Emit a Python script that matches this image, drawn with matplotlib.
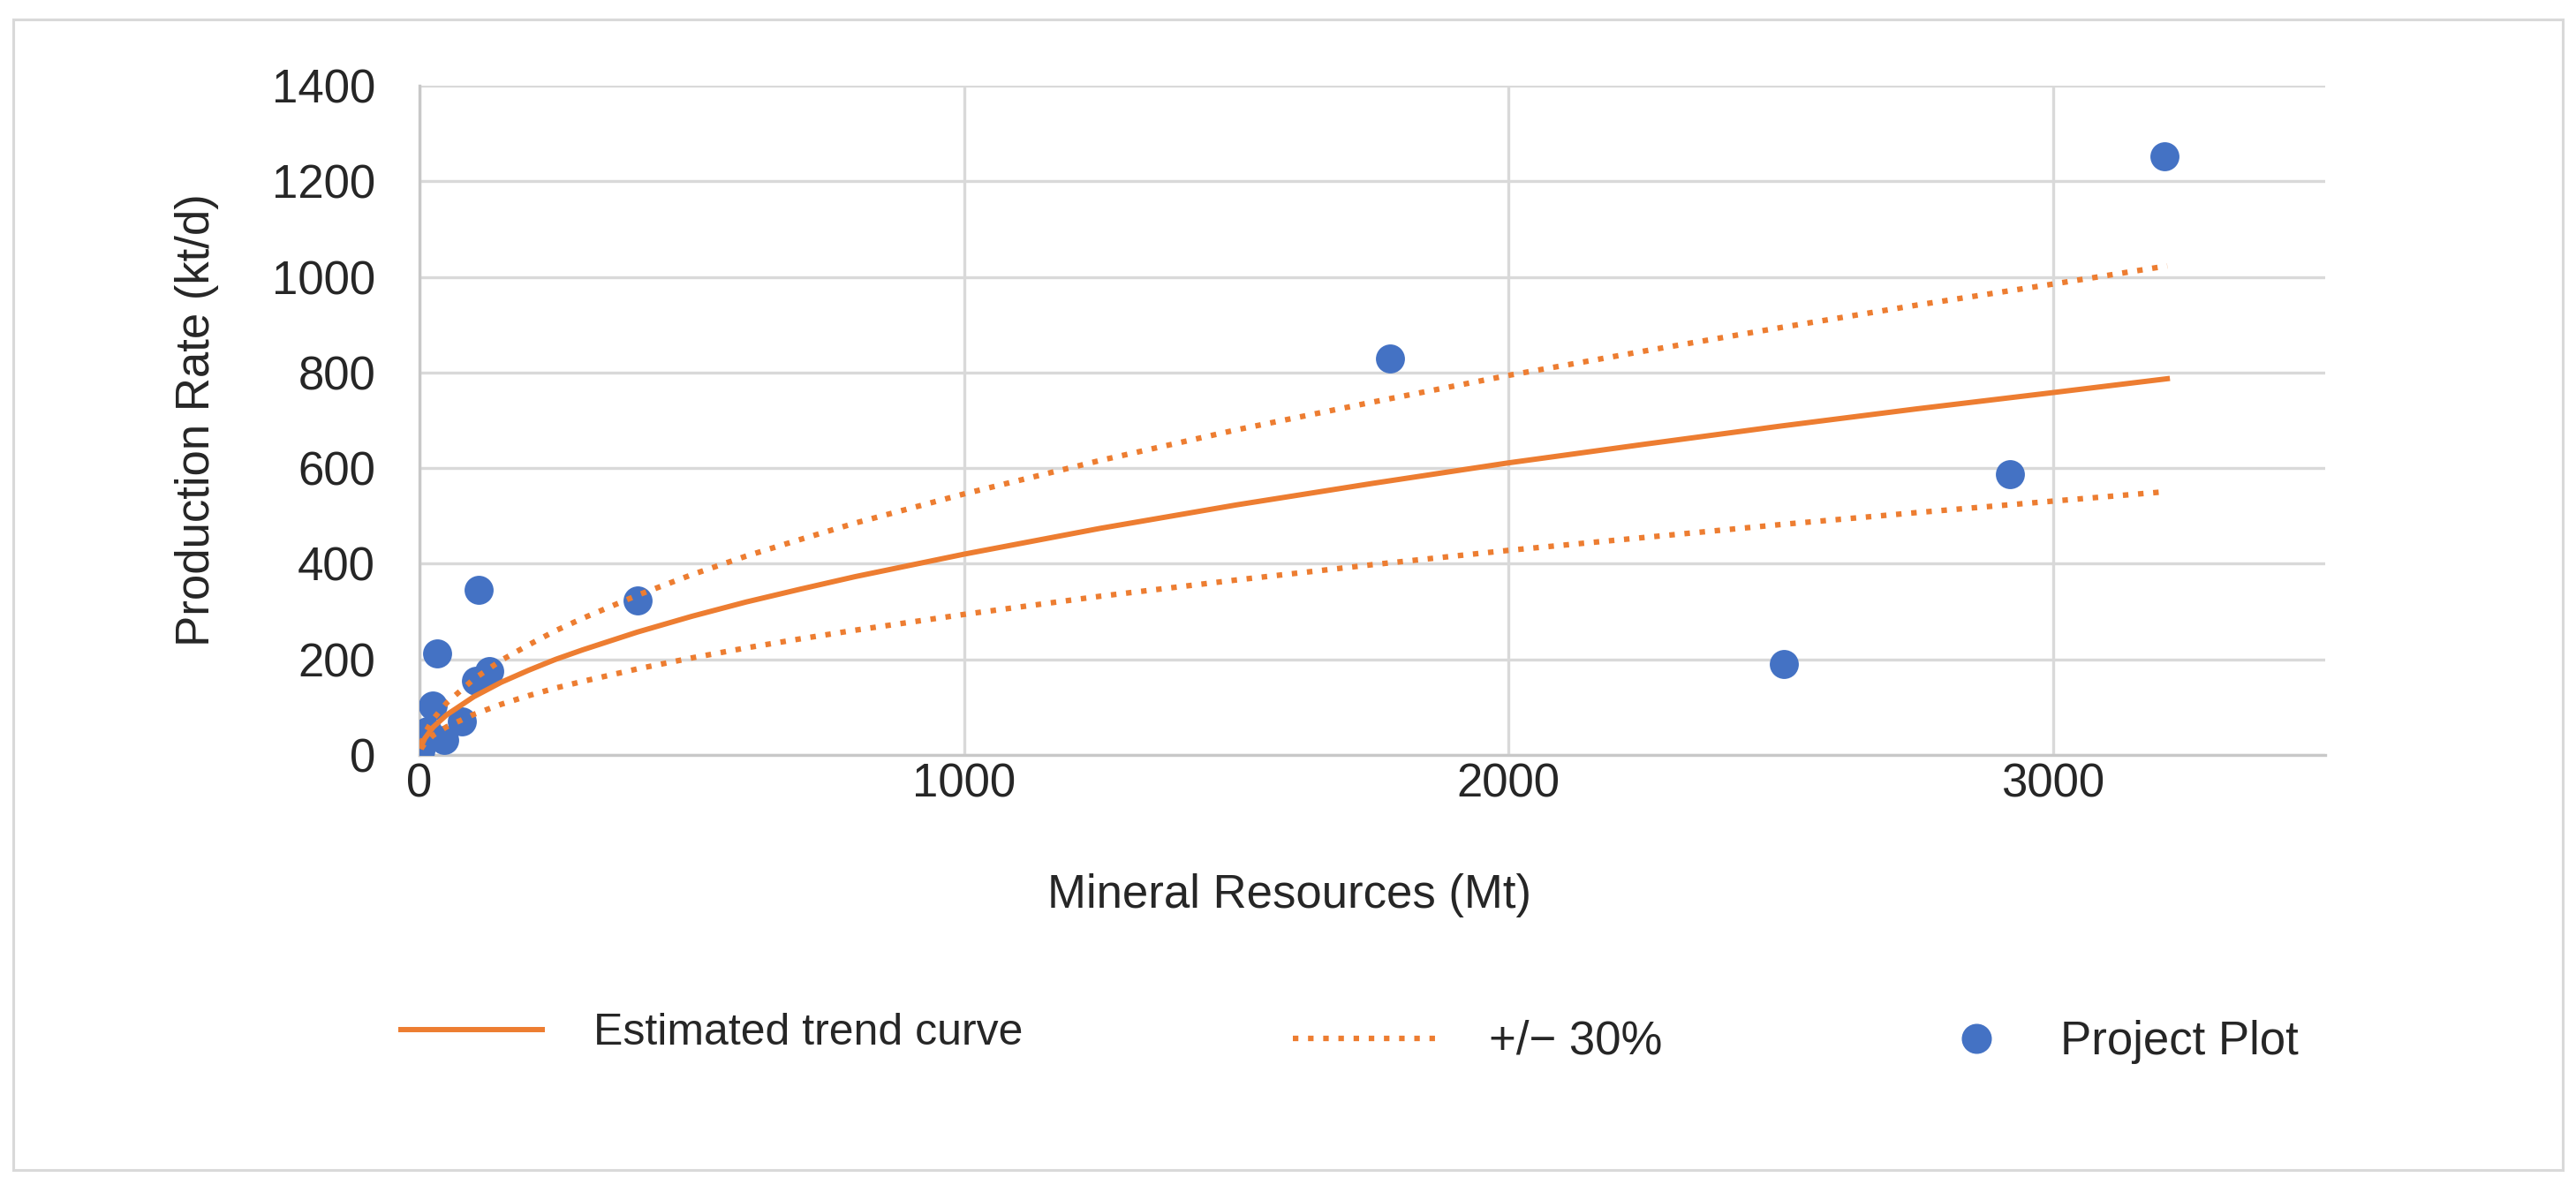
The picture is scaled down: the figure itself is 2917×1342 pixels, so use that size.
import matplotlib
matplotlib.use("Agg")
import matplotlib.pyplot as plt
from matplotlib.lines import Line2D
from matplotlib.patches import Rectangle

plt.rcParams["font.family"] = ["Liberation Sans", "DejaVu Sans"]

# project points (Mt, kt/d)
proj_x = [2, 8, 15, 24, 46, 78, 104, 128, 32, 108, 400, 1782, 2505, 2921, 3205]
proj_y = [10, 28, 50, 104, 32, 71, 155, 176, 212, 345, 324, 829, 191, 588, 1253]

# estimated trend curve and the +/- 30% band
curve_x = [3, 10, 25, 50, 100, 150, 200, 250, 300, 400, 500, 600, 700, 800, 1000,
           1250, 1500, 1750, 2000, 2250, 2500, 2750, 3000, 3210]
trend_y = [18, 35, 58, 84, 122, 152, 177, 200, 220, 257, 290, 320, 347, 373, 420,
           474, 523, 568, 611, 650, 688, 724, 758, 787]
upper_y = [23, 46, 75, 109, 159, 198, 230, 260, 286, 334, 377, 416, 451, 485, 546,
           616, 680, 738, 794, 845, 894, 941, 985, 1023]
lower_y = [13, 25, 41, 59, 85, 106, 124, 140, 154, 180, 203, 224, 243, 261, 294,
           332, 366, 398, 428, 455, 482, 507, 531, 551]

x_ticks = [0, 1000, 2000, 3000]
y_ticks = [0, 200, 400, 600, 800, 1000, 1200, 1400]

ORANGE, BLUE = "#ED7D31", "#4472C4"
GRID, TXT = "#D9D9D9", "#262626"
FS = 38
LW_TREND = 4.3
LW_DOT, DOTS = 4.5, (0, (1, 1.75))
W, H = 2917, 1342

fig = plt.figure(figsize=(W / 100, H / 100), dpi=100)
fig.patch.set_facecolor("white")

# light outer frame round the whole chart
fig.patches.append(Rectangle((15 / W, 1 - 1325 / H), (2902 - 15) / W, (1325 - 22) / H,
                             transform=fig.transFigure, fill=False,
                             edgecolor=GRID, lw=2.2))

ax = fig.add_axes([475 / W, 1 - 855 / H, (2633 - 475) / W, (855 - 97) / H])
ax.scatter(proj_x, proj_y, s=560, color=BLUE, zorder=3, linewidths=0)
ax.plot(curve_x, trend_y, color=ORANGE, lw=LW_TREND, zorder=4)
ax.plot(curve_x, upper_y, color=ORANGE, lw=LW_DOT, ls=DOTS, zorder=4)
ax.plot(curve_x, lower_y, color=ORANGE, lw=LW_DOT, ls=DOTS, zorder=4)

ax.set_xlim(0, 3500)
ax.set_ylim(0, 1400)
ax.set_xticks(x_ticks)
ax.set_yticks(y_ticks)
ax.grid(True, color=GRID, lw=2.4, zorder=0)
ax.set_axisbelow(True)
for s in ("top", "right"):
    ax.spines[s].set_visible(False)
for s in ("left", "bottom"):
    ax.spines[s].set_color("#C8C8C8")
    ax.spines[s].set_linewidth(2.4)
ax.tick_params(axis="both", length=0, labelsize=FS, labelcolor=TXT)
ax.tick_params(axis="y", pad=36)
ax.tick_params(axis="x", pad=6)

ax.set_ylabel("Production Rate (kt/d)", fontsize=FS, color=TXT)
ax.yaxis.set_label_coords(-0.105, 0.5)
fig.text(1460 / W, 1 - 1014 / H, "Mineral Resources (Mt)", ha="center", va="center",
         fontsize=FS, color=TXT)

# legend: three single entries, placed the way the reference spreads them out
entries = [
    (Line2D([], [], color=ORANGE, lw=LW_TREND), "Estimated trend curve", 454, 1170, 3.03, 1.1, 36),
    (Line2D([], [], color=ORANGE, lw=LW_DOT, ls=DOTS), "+/\u2212 30%", 1464, 1180, 3.05, 1.15, FS),
    (Line2D([], [], color=BLUE, marker="o", ls="none", markersize=23.5), "Project Plot", 2212, 1180, 1.0, 1.29, FS),
]
for h, lab, x0, y0, hl, pad, fs in entries:
    fig.legend([h], [lab], loc="center left", bbox_to_anchor=(x0 / W, 1 - y0 / H),
               frameon=False, fontsize=fs, labelcolor=TXT, handlelength=hl * FS / fs,
               handletextpad=pad * FS / fs, borderpad=0, borderaxespad=0)

fig.savefig("out.png", dpi=100, facecolor="white")
